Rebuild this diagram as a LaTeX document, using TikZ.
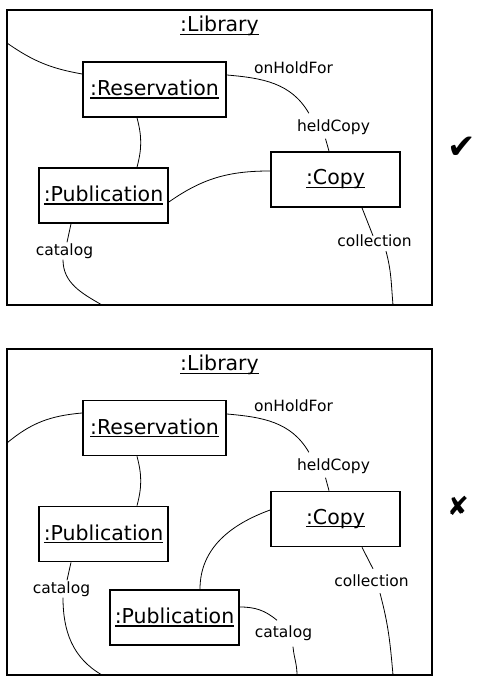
\documentclass[tikz,border=0pt]{standalone}
\usepackage{fontspec}
\setmainfont{DejaVu Sans}
\usetikzlibrary{positioning}
\tikzset{
  frame/.style={draw, line width=1.7pt, minimum width=425pt, inner sep=0pt},
  obj/.style={draw, line width=1.7pt, minimum height=55pt, inner sep=0pt, font=\fontsize{20.5}{24}\selectfont},
  title/.style={inner sep=0pt, font=\fontsize{20.5}{24}\selectfont},
  role/.style={inner sep=1pt, font=\fontsize{15.5}{18}\selectfont},
  link/.style={line width=0.8pt},
}
\newcommand{\obname}[1]{\setbox0\hbox{#1}\rlap{\rule[-3pt]{\wd0}{1.3pt}}\box0}
\begin{document}
\begin{tikzpicture}[x=1pt,y=1pt]
\useasboundingbox (0,0) rectangle (478,677);
% good version
\node[frame, minimum height=295pt] (L1) at (219.5,519.5) {};
\node[title, below=7pt of L1.north] (T1) {\obname{:Library}};
\node[obj, minimum width=143pt] (R1) at (154.5,587.5) {\obname{:Reservation}};
\node[obj, minimum width=129pt] (P1) at (103.5,481.5) {\obname{:Publication}};
\node[obj, minimum width=129pt] (C1) at (335.5,497.5) {\obname{:Copy}};
\node[role] (oh1) at (293.5,609.5) {onHoldFor};
\node[role] (hc1) at (333.5,550) {heldCopy};
\node[role] (ca1) at (64.5,426) {catalog};
\node[role] (co1) at (374.5,436) {collection};
\coordinate (w1) at (7,634);
\coordinate (s1a) at (102,372);
\coordinate (s1b) at (393,372);
\node (ok) at (462,529) {\fontsize{34}{34}\selectfont ✔};
\path[link]
  (w1) edge[out=-35, in=170] ([yshift=15.5]R1.west)
  ([yshift=14.5]R1.east) edge[out=-5, in=120] ([shift={(13,5)}]hc1.north west)
  ([xshift=-8, yshift=-3]hc1.south) edge ([xshift=-6.5]C1.north)
  ([xshift=-17.5]R1.south) edge[out=-75, in=75] ([xshift=33.5]P1.north)
  ([yshift=-6.5]P1.east) edge[out=35, in=180] ([yshift=8.5]C1.west)
  ([xshift=-32.5]P1.south) edge ([xshift=2.5]ca1.north)
  ([xshift=-1.5]ca1.south) edge[out=-90, in=150] (s1a)
  ([xshift=26.5]C1.south) edge ([xshift=-1.5, yshift=-2]co1.north)
  ([xshift=11.5, yshift=-3]co1.south) edge[out=-75, in=95] (s1b)
;
% bad version
\node[frame, minimum height=326pt] (L2) at (219.5,165) {};
\node[title, below=7pt of L2.north] (T2) {\obname{:Library}};
\node[obj, minimum width=143pt] (R2) at (154.5,249) {\obname{:Reservation}};
\node[obj, minimum width=129pt] (P2) at (103.5,143) {\obname{:Publication}};
\node[obj, minimum width=129pt] (C2) at (335.5,158) {\obname{:Copy}};
\node[obj, minimum width=129pt] (P3) at (174.5,59.5) {\obname{:Publication}};
\node[role] (oh2) at (293.5,271) {onHoldFor};
\node[role] (hc2) at (333.5,211) {heldCopy};
\node[role] (ca2) at (61.5,88) {catalog};
\node[role] (co2) at (371.5,96) {collection};
\node[role] (ca3) at (283.5,44) {catalog};
\coordinate (w2) at (7,234);
\coordinate (s2a) at (102,2);
\coordinate (s2b) at (297,2);
\coordinate (s2c) at (393,2);
\node (no) at (458,171) {\fontsize{26}{26}\selectfont ✘};
\path[link]
  ([yshift=15]R2.west) edge[out=185, in=40] (w2)
  ([yshift=14]R2.east) edge[out=-5, in=120] ([shift={(13,5)}]hc2.north west)
  ([xshift=-8, yshift=-3]hc2.south) edge ([xshift=-6.5]C2.north)
  ([xshift=-17.5]R2.south) edge[out=-75, in=75] ([xshift=33.5]P2.north)
  ([xshift=-32.5]P2.south) edge ([xshift=5.5]ca2.north)
  ([xshift=1.5]ca2.south) edge[out=-90, in=150] (s2a)
  ([yshift=9]C2.west) edge[out=200, in=90] ([xshift=25.5]P3.north)
  ([yshift=10.5]P3.east) edge[out=0, in=140] ([xshift=-6.5, yshift=4]ca3.north)
  ([xshift=9.5, yshift=-5]ca3.south) edge[out=-85, in=90] (s2b)
  ([xshift=26.5]C2.south) edge ([xshift=1.5, yshift=5]co2.north)
  ([xshift=8.5, yshift=-5]co2.south) edge[out=-75, in=95] (s2c)
;
\end{tikzpicture}
\end{document}
